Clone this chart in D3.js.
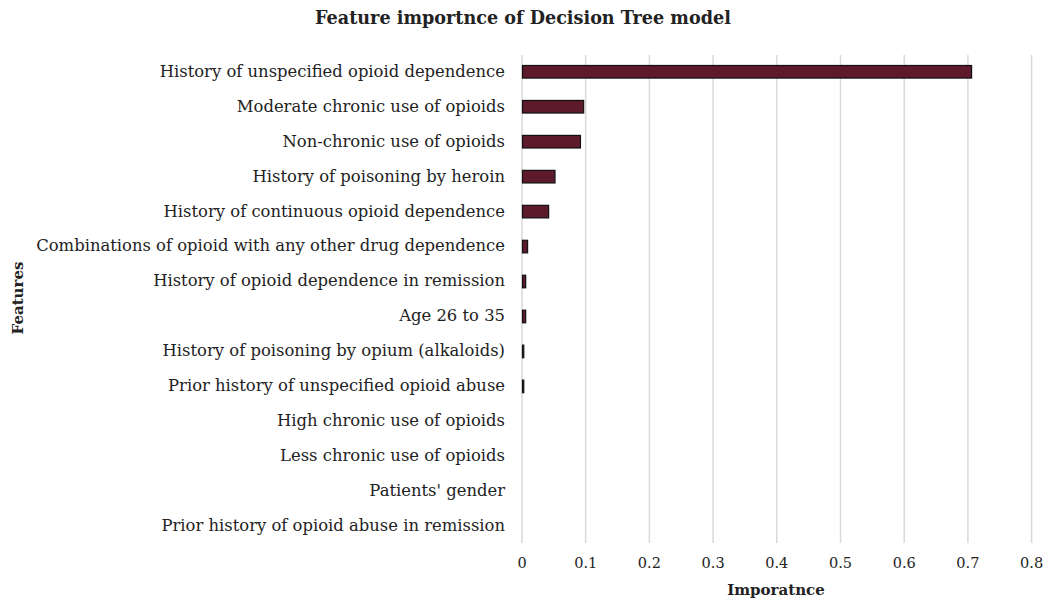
<!DOCTYPE html>
<html>
<head>
<meta charset="utf-8">
<script src="https://cdn.jsdelivr.net/npm/d3@7"></script>
<style>
  body { margin: 0; background: #fff; }
  text { font-family: "DejaVu Serif", serif; fill: #222; }
</style>
</head>
<body>
<script>
// feature names, top to bottom
var features = [
  "History of unspecified opioid dependence",
  "Moderate chronic use of opioids",
  "Non-chronic use of opioids",
  "History of poisoning by heroin",
  "History of continuous opioid dependence",
  "Combinations of opioid with any other drug dependence",
  "History of opioid dependence in remission",
  "Age 26 to 35",
  "History of poisoning by opium (alkaloids)",
  "Prior history of unspecified opioid abuse",
  "High chronic use of opioids",
  "Less chronic use of opioids",
  "Patients' gender",
  "Prior history of opioid abuse in remission"
];
var importance = [0.705, 0.096, 0.091, 0.051, 0.041, 0.008, 0.005, 0.005, 0.002, 0.002, 0, 0, 0, 0];
var ticks = [0, 0.1, 0.2, 0.3, 0.4, 0.5, 0.6, 0.7, 0.8];

var data = features.map(function(f, i) { return {name: f, value: importance[i]}; });

var width = 1045, height = 602;
var margin = {top: 55, right: 13, bottom: 59, left: 522};

var svg = d3.select("body").append("svg")
  .attr("width", width)
  .attr("height", height);

var xScale = d3.scaleLinear()
  .domain([0, 0.8])
  .range([margin.left, margin.left + 0.8 / 0.1 * 63.7]);

var yScale = d3.scaleBand()
  .domain(features)
  .range([margin.top, height - margin.bottom])
  .paddingInner(0.64)
  .paddingOuter(0.3);

// gridlines
svg.append("g")
  .selectAll("line")
  .data(ticks)
  .enter()
  .append("line")
  .attr("x1", function(d) { return xScale(d); })
  .attr("x2", function(d) { return xScale(d); })
  .attr("y1", margin.top)
  .attr("y2", height - margin.bottom)
  .attr("stroke", "#d9d9d9")
  .attr("stroke-width", 1.5);

// tick labels
svg.append("g")
  .selectAll("text")
  .data(ticks)
  .enter()
  .append("text")
  .attr("x", function(d) { return xScale(d); })
  .attr("y", 568)
  .attr("text-anchor", "middle")
  .style("font-size", "14.5px")
  .text(function(d) { return d3.format("")(d); });

// bars
svg.append("g")
  .selectAll("rect")
  .data(data.filter(function(d) { return d.value > 0; }))
  .enter()
  .append("rect")
  .attr("x", xScale(0) + 0.5)
  .attr("y", function(d) { return yScale(d.name); })
  .attr("width", function(d) { return Math.max(1, xScale(d.value) - xScale(0)); })
  .attr("height", yScale.bandwidth())
  .attr("fill", "#5c1a2b")
  .attr("stroke", "#111")
  .attr("stroke-width", 1.2);

// category labels
svg.append("g")
  .selectAll("text")
  .data(data)
  .enter()
  .append("text")
  .attr("x", 505)
  .attr("y", function(d) { return yScale(d.name) + yScale.bandwidth() / 2; })
  .attr("dy", "0.3em")
  .attr("text-anchor", "end")
  .style("font-size", "16.4px")
  .text(function(d) { return d.name; });

// title
svg.append("text")
  .attr("x", 523)
  .attr("y", 24)
  .attr("text-anchor", "middle")
  .style("font-size", "17.6px")
  .style("font-weight", "bold")
  .text("Feature importnce of Decision Tree model");

// x axis title
svg.append("text")
  .attr("x", 776)
  .attr("y", 595)
  .attr("text-anchor", "middle")
  .style("font-size", "15px")
  .style("font-weight", "bold")
  .text("Imporatnce");

// y axis title
svg.append("text")
  .attr("transform", "translate(23,298) rotate(-90)")
  .attr("text-anchor", "middle")
  .style("font-size", "15px")
  .style("font-weight", "bold")
  .text("Features");
</script>
</body>
</html>
